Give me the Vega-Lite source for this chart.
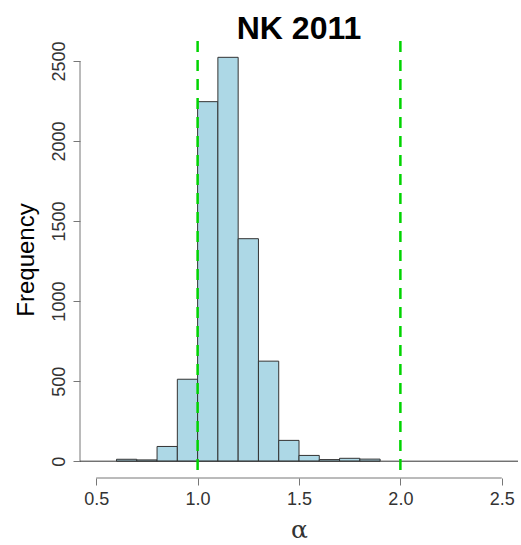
{
  "$schema": "https://vega.github.io/schema/vega-lite/v6.json",
  "autosize": {"type": "none"},
  "padding": {"left": 80, "top": 41, "right": 3, "bottom": 67},
  "width": 438,
  "height": 437,
  "background": "white",
  "config": {"view": {"stroke": null}, "font": "Liberation Sans"},
  "title": {"text": "NK 2011", "fontSize": 32, "fontWeight": "bold", "font": "Liberation Sans", "color": "#000000", "baseline": "alphabetic", "offset": 2, "dy": 33, "anchor": "middle"},
  "datasets": {
    "bins": [
      {"bin_start": 0.6, "bin_end": 0.7, "count": 12},
      {"bin_start": 0.7, "bin_end": 0.8, "count": 8},
      {"bin_start": 0.8, "bin_end": 0.9, "count": 92},
      {"bin_start": 0.9, "bin_end": 1.0, "count": 512},
      {"bin_start": 1.0, "bin_end": 1.1, "count": 2246},
      {"bin_start": 1.1, "bin_end": 1.2, "count": 2523},
      {"bin_start": 1.2, "bin_end": 1.3, "count": 1390},
      {"bin_start": 1.3, "bin_end": 1.4, "count": 625},
      {"bin_start": 1.4, "bin_end": 1.5, "count": 130},
      {"bin_start": 1.5, "bin_end": 1.6, "count": 36},
      {"bin_start": 1.6, "bin_end": 1.7, "count": 10},
      {"bin_start": 1.7, "bin_end": 1.8, "count": 18},
      {"bin_start": 1.8, "bin_end": 1.9, "count": 13}
    ],
    "vlines": [{"alpha": 1.0}, {"alpha": 2.0}],
    "one": [{"k": 1}]
  },
  "layer": [
    {
      "data": {"name": "bins"},
      "mark": {"type": "bar", "fill": "#ADD8E6", "stroke": "#333333", "strokeWidth": 1},
      "encoding": {
        "x": {"field": "bin_start", "type": "quantitative", "scale": {"domain": [0.42, 2.58], "nice": false, "zero": false},
          "axis": {"values": [0.5, 1.0, 1.5, 2.0, 2.5], "format": ".1f", "domain": false, "grid": false, "tickSize": 7, "tickColor": "#777777", "labelFontSize": 18, "labelColor": "#333333", "labelPadding": 5, "labelFont": "Liberation Sans",
            "title": "α", "titleFont": "DejaVu Serif", "titleFontSize": 25, "titleFontWeight": "normal", "titleColor": "#333333", "titleBaseline": "alphabetic", "titleY": 59}},
        "x2": {"field": "bin_end"},
        "y": {"field": "count", "type": "quantitative", "scale": {"domain": [-105, 2625], "nice": false, "zero": false},
          "axis": {"values": [0, 500, 1000, 1500, 2000, 2500], "format": "d", "domain": false, "grid": false, "tickSize": 7, "tickColor": "#777777", "labelFontSize": 18, "labelColor": "#333333", "labelAngle": 270, "labelAlign": "center", "labelBaseline": "alphabetic", "labelPadding": 9, "labelFont": "Liberation Sans",
            "title": "Frequency", "titleFont": "Liberation Sans", "titleFontSize": 24, "titleFontWeight": "normal", "titleColor": "#000000", "titleAngle": 270, "titleBaseline": "alphabetic", "titleX": -47}},
        "y2": {"datum": 0}
      }
    },
    {
      "data": {"name": "one"},
      "mark": {"type": "rule", "color": "#777777", "strokeWidth": 1},
      "encoding": {"x": {"datum": 0.5}, "x2": {"datum": 2.5}, "y": {"datum": -105}}
    },
    {
      "data": {"name": "one"},
      "mark": {"type": "rule", "color": "#777777", "strokeWidth": 1},
      "encoding": {"x": {"datum": 0.42}, "y": {"datum": 0}, "y2": {"datum": 2500}}
    },
    {
      "data": {"name": "one"},
      "mark": {"type": "rule", "color": "#333333", "strokeWidth": 1},
      "encoding": {"y": {"datum": 0}}
    },
    {
      "data": {"name": "vlines"},
      "mark": {"type": "rule", "color": "#00D400", "strokeWidth": 2.5, "strokeDash": [11, 8]},
      "encoding": {"x": {"field": "alpha", "type": "quantitative"}}
    }
  ]
}
